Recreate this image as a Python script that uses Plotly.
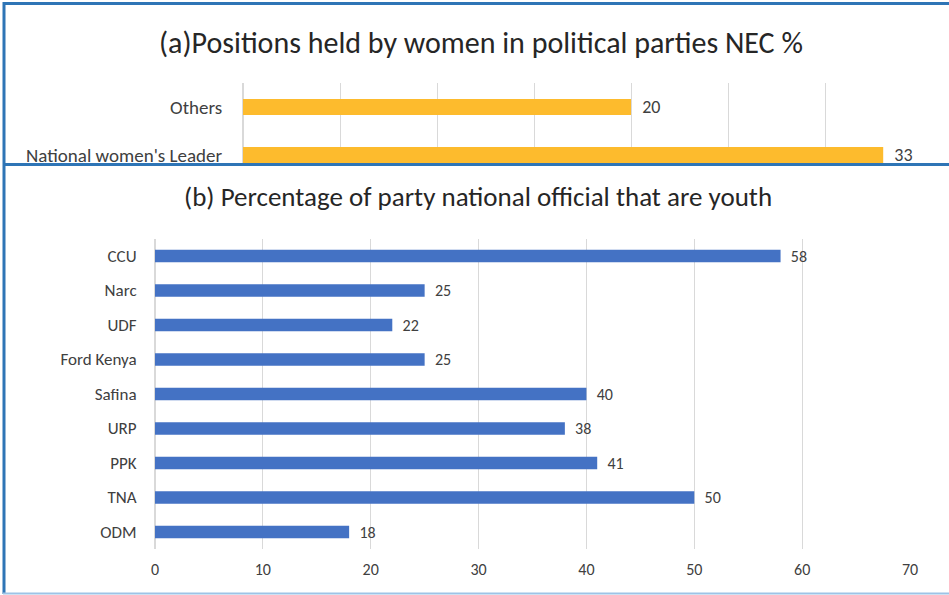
import plotly.graph_objects as go

# Panel (a)
cats_a = ["National women's Leader", "Others"]
vals_a = [33, 20]
title_a = "(a)Positions held by women in political parties NEC %"

# Panel (b)
cats_b = ["ODM", "TNA", "PPK", "URP", "Safina", "Ford Kenya", "UDF", "Narc", "CCU"]
vals_b = [18, 50, 41, 38, 40, 25, 22, 25, 58]
title_b = "(b) Percentage of party national official that are youth"
ticks_b = [0, 10, 20, 30, 40, 50, 60, 70]

W, H = 949, 595
FONT = "Carlito, Lato, sans-serif"
TXT = "#404040"
GRID = "#D9D9D9"
SP = "\u00a0\u00a0"

def px(x):
    return x / W

def py(y):
    return 1 - y / H

fig = go.Figure()

fig.add_trace(go.Bar(
    y=list(range(len(cats_a))), x=vals_a, orientation="h",
    marker=dict(color="#FDBB2D", line=dict(width=0)),
    width=0.33, text=[SP + str(v) for v in vals_a], textposition="outside",
    constraintext="none",
    textfont=dict(size=18, color=TXT, family=FONT), cliponaxis=False,
    xaxis="x", yaxis="y", hoverinfo="skip"))

fig.add_trace(go.Bar(
    y=cats_b, x=vals_b, orientation="h",
    marker=dict(color="#4472C4", line=dict(width=0)),
    width=0.36, text=[SP + str(v) for v in vals_b], textposition="outside",
    constraintext="none",
    textfont=dict(size=16, color=TXT, family=FONT), cliponaxis=False,
    xaxis="x2", yaxis="y2", hoverinfo="skip"))

fig.update_layout(
    width=W, height=H, autosize=False, margin=dict(l=0, r=0, t=0, b=0),
    paper_bgcolor="white", plot_bgcolor="white", showlegend=False,
    font=dict(family=FONT, color=TXT),
    xaxis=dict(domain=[px(243), px(922)], range=[0, 35], dtick=5,
               showgrid=True, gridcolor=GRID, gridwidth=1,
               showticklabels=False, zeroline=True, zerolinecolor=GRID,
               showline=False, anchor="y", fixedrange=True, automargin=False),
    yaxis=dict(domain=[py(163), py(83)], range=[-0.167, 1.5],
               tickvals=list(range(len(cats_a))), ticktext=cats_a,
               ticks="outside", ticklen=16, tickcolor="rgba(0,0,0,0)",
               tickfont=dict(size=19, color=TXT, family=FONT),
               showgrid=False, zeroline=False, anchor="x", fixedrange=True,
               automargin=False),
    xaxis2=dict(domain=[px(155), px(910)], range=[0, 70], tickvals=ticks_b,
                showgrid=True, gridcolor=GRID, gridwidth=1,
                zeroline=True, zerolinecolor=GRID, showline=False,
                ticks="outside", ticklen=6, tickcolor="rgba(0,0,0,0)",
                tickfont=dict(size=16, color=TXT, family=FONT),
                anchor="y2", fixedrange=True, automargin=False),
    yaxis2=dict(domain=[py(549.25), py(238.75)], range=[-0.5, 8.5],
                type="category", categoryorder="array", categoryarray=cats_b,
                ticks="outside", ticklen=14, tickcolor="rgba(0,0,0,0)",
                tickfont=dict(size=17, color=TXT, family=FONT),
                showgrid=False, zeroline=False, anchor="x2", fixedrange=True,
                automargin=False),
    annotations=[
        dict(text=title_a, x=px(481), y=py(43), xref="paper", yref="paper",
             showarrow=False, font=dict(size=30, color="#262626", family=FONT),
             xanchor="center", yanchor="middle"),
        dict(text=title_b, x=px(478), y=py(197), xref="paper", yref="paper",
             showarrow=False, font=dict(size=27, color="#262626", family=FONT),
             xanchor="center", yanchor="middle"),
    ],
    shapes=[
        dict(type="line", xref="paper", yref="paper", x0=px(3), x1=1, y0=py(3.5), y1=py(3.5),
             line=dict(color="#2E75B6", width=3)),
        dict(type="line", xref="paper", yref="paper", x0=px(4), x1=px(4), y0=py(2), y1=py(594),
             line=dict(color="#2E75B6", width=3)),
        dict(type="line", xref="paper", yref="paper", x0=px(3), x1=1, y0=py(164.5), y1=py(164.5),
             line=dict(color="#2E75B6", width=3)),
        dict(type="line", xref="paper", yref="paper", x0=px(3), x1=1, y0=py(593.5), y1=py(593.5),
             line=dict(color="#9DC3E6", width=2)),
    ],
)

fig.write_html("out.html", config={"responsive": False},
               post_script="document.body.style.margin='0';document.body.style.overflow='hidden';")
